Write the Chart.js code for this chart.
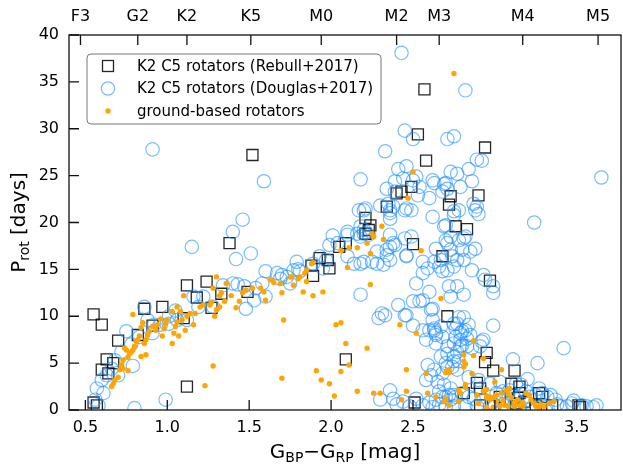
<!DOCTYPE html>
<html><head><meta charset="utf-8">
<script src="https://cdn.jsdelivr.net/npm/chart.js@4/dist/chart.umd.min.js"></script>
<style>html,body{margin:0;padding:0;background:#fff;}canvas{display:block;}</style>
</head><body>
<canvas id="c" width="623" height="468"></canvas>
<script>
// ---- data (BP-RP colour [mag], rotation period [days]) ----
const rebull = [
[1.52,27.2],[1.38,17.8],[1.12,13.3],[1.24,13.7],[1.18,12.0],[0.86,10.8],[0.97,11.0],[1.33,12.4],[1.27,10.9],[1.49,12.6],[0.91,9.0],[1.10,9.8],[0.82,8.0],[0.70,7.4],[0.55,10.2],[0.60,9.1],[0.63,5.4],[0.67,5.0],[0.60,4.3],[0.64,3.9],[1.12,2.5],[0.55,0.8],[0.57,0.5],
[2.57,34.2],[2.53,29.4],[2.58,26.6],[2.94,28.0],[2.49,23.8],[2.43,23.3],[2.40,23.1],[2.73,22.8],[2.72,21.9],[2.90,22.9],[2.34,21.7],[2.21,20.5],[2.24,19.7],[2.23,19.2],[2.21,18.8],[2.76,19.6],[2.83,19.3],[2.09,17.8],[2.05,17.4],[2.50,17.7],[2.68,16.4],[1.93,16.2],[1.98,16.0],[1.99,15.1],[1.88,15.4],[1.89,14.3],[2.97,13.8],[2.71,10.0],[2.09,5.4],[2.51,0.8],
[2.95,6.1],[2.94,5.1],[2.99,4.2],[3.12,4.2],[2.89,2.9],[2.91,2.3],[2.81,1.8],[3.10,2.8],[3.15,2.5],[3.15,1.8],[3.14,1.3],[3.27,1.8],[3.29,1.4],[3.13,0.7],[3.25,0.5],[3.35,0.5],[2.91,0.5],[2.99,0.5],[3.03,1.4],[3.18,0.9],[3.51,0.5],[3.52,0.3]
];
const douglas = [
[0.91,27.8],[1.59,24.4],[1.46,20.3],[1.40,19.0],[1.15,17.4],[1.42,16.1],[1.51,16.7],[1.79,15.8],[1.60,14.8],[1.67,14.6],[1.73,14.2],[1.80,15.0],[1.40,13.5],[1.43,13.4],[1.47,13.2],[1.34,13.3],[1.54,13.0],[1.58,13.5],[1.60,12.1],[1.53,11.7],[1.48,10.8],[1.75,13.5],[1.69,14.0],[1.22,12.1],[1.16,12.1],[1.19,11.0],[1.28,11.0],[1.01,10.0],[0.96,9.1],[0.92,9.1],[0.86,11.0],[0.75,8.4],[0.83,7.8],[0.79,4.7],[0.70,3.7],[0.66,4.4],[0.63,3.7],[0.60,3.2],[0.57,2.3],[0.61,1.8],[0.56,1.1],[0.58,0.5],[0.80,0.2],[0.99,1.1],[1.12,9.6],[1.06,9.6],[1.01,9.2],[0.91,8.2],[0.72,6.2],[0.68,5.3],[0.78,7.0],[0.88,9.6],[1.05,10.6],
[2.01,18.6],[2.10,18.7],[2.04,17.8],[1.99,17.6],[1.93,16.4],[1.97,16.0],[1.89,15.6],[1.77,14.9],[1.70,14.4],[1.81,14.8],[1.95,15.1],[2.10,16.4],[2.14,15.6],[2.18,15.6],[2.20,15.8],[2.25,15.8],[2.28,15.6],[2.28,16.9],[2.34,17.1],[2.36,17.4],[2.38,17.8],[2.46,16.5],[2.36,16.0],[2.32,15.5],[2.18,12.3],[2.41,11.2],[2.31,10.3],[2.29,9.8],[2.46,10.1],[2.20,19.2],[2.16,18.8],[2.20,18.8],[2.23,18.7],[2.18,18.5],[2.21,21.5],[2.17,21.3],[2.30,21.8],[2.38,21.7],[2.46,21.5],[2.36,2.1],[2.38,1.2],[2.30,1.1],
[2.43,38.1],[2.82,34.1],[2.45,29.8],[2.50,28.9],[2.71,28.9],[2.75,29.2],[2.33,27.6],[2.89,26.7],[2.92,26.6],[2.18,24.6],[2.41,25.7],[2.46,26.0],[2.44,24.7],[2.52,24.9],[2.62,24.5],[2.63,24.2],[2.73,25.4],[2.77,25.2],[2.84,25.7],[2.86,24.4],[2.39,24.4],[2.34,23.6],[2.39,23.3],[2.54,23.8],[2.60,22.6],[2.68,23.3],[2.79,23.8],[2.87,22.0],[2.20,21.3],[2.36,21.3],[2.45,21.3],[2.49,21.3],[2.62,20.6],[2.75,21.2],[2.88,21.3],[2.70,19.7],[2.10,19.0],[2.18,19.6],[2.36,20.4],[2.69,24.1],[2.53,22.9],[2.50,24.5],[2.89,21.7],[2.90,20.9],[2.78,21.3],[2.75,20.8],[2.36,21.0],[2.35,22.0],[2.70,24.2],[2.71,23.6],[3.65,24.8],[3.24,20.0],
[2.36,18.7],[2.39,17.6],[2.34,16.5],[2.46,16.4],[2.49,18.5],[2.45,18.3],[2.69,19.6],[2.73,18.5],[2.71,17.8],[2.78,18.1],[2.80,17.1],[2.85,16.9],[2.88,17.2],[2.81,18.3],[2.64,17.2],[2.63,15.8],[2.66,15.3],[2.71,14.9],[2.75,15.3],[2.77,16.0],[2.74,16.4],[2.56,15.8],[2.56,14.6],[2.52,13.5],[2.59,15.1],[2.86,14.9],[2.93,14.4],[2.94,13.9],[2.99,13.2],[2.99,12.5],[2.72,13.2],[2.77,13.2],[2.73,12.1],[2.81,12.3],[2.60,12.6],[2.56,11.7],[2.50,11.6],[2.45,10.1],[2.33,10.1],[2.61,10.7],[2.62,9.6],[2.63,8.5],[2.64,8.0],[2.60,8.5],[2.58,7.5],[2.77,9.2],[2.80,8.4],[2.85,8.0],[2.92,7.3],[2.79,7.5],[2.99,9.0],[2.56,8.5],[2.50,9.0],[2.70,18.1],[2.73,17.1],[2.82,18.5],[2.81,16.0],[2.68,14.8],[2.67,16.0],[2.54,11.6],[2.62,10.8],[2.64,8.2],[2.63,8.7],[2.64,7.1],
[2.59,4.8],[2.63,4.3],[2.61,3.7],[2.58,3.2],[2.65,3.0],[2.66,2.0],[2.70,1.4],[2.64,1.1],[2.73,1.1],[2.75,1.6],[2.75,7.1],[2.80,6.9],[2.83,6.8],[2.77,6.2],[2.71,6.0],[2.79,8.2],[2.82,8.5],[2.75,9.2],[2.78,9.9],[2.81,9.9],[2.84,9.1],[2.76,8.7],[2.83,7.6],[2.93,7.5],[2.91,6.8],[2.79,6.8],[2.86,6.6],[2.68,7.8],[2.67,8.9],[3.42,6.6],[3.26,5.0],[3.11,5.4],[2.75,5.2],[2.71,4.6],[2.77,4.3],[2.67,5.7],
[2.76,7.8],[2.71,6.8],[2.75,5.7],[2.78,5.2],[2.70,5.0],[2.68,3.9],[2.74,4.6],[2.69,2.7],[2.73,2.3],[2.72,1.6],[2.68,1.4],[2.76,1.4],[2.80,1.8],[2.84,1.4],[2.87,1.2],[2.91,2.3],[2.97,2.8],[3.01,1.8],[3.05,2.0],[3.09,2.1],[3.13,2.8],[3.16,2.7],[3.19,2.0],[3.21,1.4],[3.25,1.6],[3.27,2.3],[3.29,1.8],[3.32,1.4],[3.34,1.6],[3.37,1.1],[3.47,0.7],[3.53,0.5],[3.56,0.4],[3.07,0.4],[3.15,0.3],[3.23,0.3],[3.31,0.3],[3.40,0.4],[3.44,0.4],[2.97,0.4],[2.89,0.4],[2.82,0.4],[2.75,0.4],[2.70,0.4],[3.00,0.5],[3.05,1.2],[3.12,1.2],[3.19,0.9],[2.93,1.1],
[2.40,0.6],[2.44,0.9],[2.48,0.4],[2.52,1.2],[2.56,0.5],[2.60,0.8],[2.62,0.3],[2.66,0.6],[3.60,0.3],[3.62,0.5],[3.48,1.0],[3.38,0.6],[2.98,0.8],[3.10,0.8],[2.84,3.5],[2.90,3.2],[3.20,3.3],[3.03,3.0]
];
const ground = [
[0.66,2.5],[0.67,2.8],[0.68,3.2],[0.70,3.5],[0.71,4.3],[0.72,4.8],[0.73,5.3],[0.73,4.4],[0.76,4.2],[0.74,6.6],[0.75,6.4],[0.76,5.6],[0.77,6.0],[0.78,6.2],[0.79,6.4],[0.80,6.8],[0.81,7.3],[0.82,7.5],[0.83,7.9],[0.84,8.8],[0.85,9.3],[0.86,7.1],[0.87,7.5],[0.88,8.0],[0.89,8.4],[0.91,8.9],[0.93,8.5],[0.94,9.1],[0.96,9.7],[0.97,7.9],[0.98,8.7],[0.99,9.2],[1.00,9.6],[1.03,10.5],[1.04,8.2],[1.05,8.9],[1.06,9.4],[1.08,10.5],[1.09,9.6],[1.12,10.0],[1.14,10.3],[1.17,10.3],[1.20,11.0],[1.22,11.2],[1.26,11.2],[1.27,11.5],[1.29,10.0],[1.30,10.7],[1.32,11.0],[1.33,12.5],[1.32,12.2],[1.28,13.0],[1.30,14.2],[1.35,11.6],[0.79,10.2],[0.84,5.7],[0.87,5.9],[1.03,7.1],[1.07,7.9],[1.11,8.5],[1.16,9.1],[1.06,11.0],[1.10,12.2],[1.36,13.5],[1.39,12.2],[1.42,10.9],[1.44,11.6],[1.46,12.5],[1.48,12.8],[1.52,13.0],[1.57,13.0],[1.59,12.6],[1.60,11.7],[1.63,13.9],[1.65,13.6],[1.69,13.5],[1.70,12.5],[1.75,14.2],[1.77,13.3],[1.71,9.6],[1.70,3.4],[1.28,4.7],[1.23,2.6],
[2.31,19.6],[2.25,18.8],[2.26,18.5],[2.22,17.8],[2.16,17.3],[2.11,17.3],[2.06,17.0],[2.24,16.7],[2.32,18.2],[2.55,17.0],[2.10,15.2],[1.89,15.7],[1.88,15.6],[1.85,14.9],[1.84,14.6],[1.81,14.2],[1.80,14.0],[1.76,14.2],[1.85,13.7],[1.83,12.6],[1.95,12.6],[1.89,12.2],[2.24,13.4],[2.03,9.1],[2.06,9.3],[2.42,9.1],[2.52,8.2],[2.67,11.9],[2.09,7.1],[2.22,6.6],[2.11,4.8],[1.91,4.2],[2.06,4.1],[1.94,3.2],[1.99,2.8],[2.02,1.5],[2.16,2.0],[2.26,1.8],[2.30,1.8],[2.46,4.3],[2.46,2.0],[2.43,1.1],[2.58,3.9],[2.59,1.8],[2.64,1.4],[2.75,35.9],[2.50,25.4],[2.47,22.6],[2.87,7.4],
[2.81,5.9],[2.87,5.8],[2.81,5.2],[2.82,4.9],[2.81,4.6],[2.72,4.3],[2.70,4.0],[2.72,4.0],[2.86,3.9],[2.93,5.5],[3.04,4.3],[3.00,3.0],[2.82,2.7],[2.82,2.4],[2.78,2.1],[2.79,1.8],[2.70,1.2],[2.69,0.9],[2.72,0.5],[2.78,0.9],[2.89,1.6],[2.93,2.0],[2.95,2.2],[2.95,1.5],[2.95,1.3],[2.97,1.1],[2.97,1.4],[2.99,1.3],[3.01,1.6],[3.04,1.8],[3.07,2.1],[3.09,2.3],[3.08,1.7],[3.10,1.3],[3.12,0.8],[3.08,0.4],[3.05,1.0],[3.14,1.1],[3.15,0.5],[3.17,0.8],[3.19,1.8],[3.21,1.6],[3.22,1.1],[3.24,0.7],[3.25,0.4],[3.27,0.3],[3.28,0.6],[3.30,0.4],[3.33,0.7],[3.36,0.9],[3.17,0.4],[3.03,0.4],[2.99,0.3],[2.95,0.3],[2.90,0.7],[3.12,0.4],[3.06,0.5],[3.01,0.9]
];
const xTicks = [0.5,1.0,1.5,2.0,2.5,3.0,3.5];
const yTicks = [0,5,10,15,20,25,30,35,40];
const spTypes = ['F3','G2','K2','K5','M0','M2','M3','M4','M5'];
const spColors = [0.47,0.82,1.12,1.51,1.94,2.40,2.66,3.17,3.63];
const seriesNames = ['K2 C5 rotators (Rebull+2017)','K2 C5 rotators (Douglas+2017)','ground-based rotators'];

// ---- styling ----
const FAM = "'DejaVu Sans', sans-serif";
const SQ_COL = 'rgba(0,0,0,0.85)';
const CI_COL = 'rgba(30,144,255,0.6)';
const OR_COL = '#ffa500';
const pts = a => a.map(p => ({x:p[0], y:p[1]}));

function richText(ctx, parts, cx, baseY, size){
  let w = 0;
  parts.forEach(p => { ctx.font = (p.sub ? size*0.7 : size) + 'px ' + FAM; w += ctx.measureText(p.t).width; });
  let x = cx - w/2;
  ctx.textAlign = 'left'; ctx.textBaseline = 'alphabetic';
  parts.forEach(p => {
    const s = p.sub ? size*0.7 : size;
    ctx.font = s + 'px ' + FAM;
    ctx.fillText(p.t, x, baseY + (p.sub ? size*0.22 : 0));
    x += ctx.measureText(p.t).width;
  });
}

const decor = {
  id: 'decor',
  afterDraw(chart){
    const ctx = chart.ctx, a = chart.chartArea;
    const sx = chart.scales.x, sy = chart.scales.y, st = chart.scales.x2;
    ctx.save();
    ctx.strokeStyle = '#111'; ctx.lineWidth = 1.3;
    ctx.beginPath();
    const TL = 10;
    sx.ticks.forEach(t => { const p = sx.getPixelForValue(t.value); ctx.moveTo(p, a.bottom); ctx.lineTo(p, a.bottom - TL); });
    st.ticks.forEach(t => { const p = st.getPixelForValue(t.value); ctx.moveTo(p, a.top); ctx.lineTo(p, a.top + TL); });
    sy.ticks.forEach(t => { const p = sy.getPixelForValue(t.value); ctx.moveTo(a.left, p); ctx.lineTo(a.left + TL, p); });
    ctx.stroke();
    ctx.strokeRect(a.left, a.top, a.right - a.left, a.bottom - a.top);

    // axis titles
    ctx.fillStyle = '#000';
    richText(ctx, [{t:'G'},{t:'BP',sub:true},{t:'\u2212G'},{t:'RP',sub:true},{t:' [mag]'}], (a.left + a.right)/2, 458, 20);
    ctx.save();
    ctx.translate(25, (a.top + a.bottom)/2);
    ctx.rotate(-Math.PI/2);
    richText(ctx, [{t:'P'},{t:'rot',sub:true},{t:' [days]'}], 0, 0, 20);
    ctx.restore();

    // legend
    const L = {x:87, y:54, w:294, h:70, r:4};
    ctx.beginPath();
    ctx.moveTo(L.x + L.r, L.y);
    ctx.arcTo(L.x + L.w, L.y, L.x + L.w, L.y + L.h, L.r);
    ctx.arcTo(L.x + L.w, L.y + L.h, L.x, L.y + L.h, L.r);
    ctx.arcTo(L.x, L.y + L.h, L.x, L.y, L.r);
    ctx.arcTo(L.x, L.y, L.x + L.w, L.y, L.r);
    ctx.closePath();
    ctx.fillStyle = 'rgba(255,255,255,0.85)'; ctx.fill();
    ctx.strokeStyle = '#777'; ctx.lineWidth = 1; ctx.stroke();
    const rows = [66, 88.5, 111], mx = 108;
    ctx.strokeStyle = SQ_COL; ctx.lineWidth = 1.3;
    ctx.strokeRect(mx - 5.5, rows[0] - 5.5, 11, 11);
    ctx.beginPath(); ctx.arc(mx, rows[1], 6.7, 0, Math.PI*2); ctx.strokeStyle = CI_COL; ctx.lineWidth = 1.2; ctx.stroke();
    ctx.beginPath(); ctx.arc(mx, rows[2], 2.7, 0, Math.PI*2); ctx.fillStyle = OR_COL; ctx.fill();
    ctx.fillStyle = '#000'; ctx.font = '15px ' + FAM; ctx.textAlign = 'left'; ctx.textBaseline = 'middle';
    chart.data.datasets.forEach((d, i) => ctx.fillText(d.label, 137, rows[i] + 1));
    ctx.restore();
  }
};

const tickFont = {family: FAM, size: 16};
const noPad = s => { s.paddingLeft = 0; s.paddingRight = 0; };
new Chart(document.getElementById('c'), {
  type: 'scatter',
  data: {
    datasets: [
      {label: seriesNames[0], data: pts(rebull), pointStyle: 'rect', pointRadius: 7.8, borderColor: SQ_COL, backgroundColor: 'rgba(0,0,0,0)', borderWidth: 1.3, order: 3},
      {label: seriesNames[1], data: pts(douglas), pointStyle: 'circle', pointRadius: 6.7, borderColor: CI_COL, backgroundColor: 'rgba(0,0,0,0)', borderWidth: 1.2, order: 2},
      {label: seriesNames[2], data: pts(ground), pointStyle: 'circle', pointRadius: 2.7, borderColor: OR_COL, backgroundColor: OR_COL, borderWidth: 0, order: 1}
    ]
  },
  options: {
    responsive: false, animation: false, devicePixelRatio: 1, events: [],
    layout: {autoPadding: false, padding: {left: 0, right: 2, top: 0, bottom: 0}},
    plugins: {legend: {display: false}, tooltip: {enabled: false}},
    scales: {
      x: {type: 'linear', position: 'bottom', min: 0.4, max: 3.77,
        grid: {display: false, drawTicks: false}, border: {display: false},
        afterBuildTicks: s => { s.ticks = xTicks.map(v => ({value: v})); },
        ticks: {callback: v => Number(v).toFixed(1), font: tickFont, color: '#000', padding: 8, maxRotation: 0, autoSkip: false},
        afterFit: s => { s.height = 58; noPad(s); }},
      x2: {type: 'linear', position: 'top', min: 0.4, max: 3.77,
        grid: {display: false, drawTicks: false}, border: {display: false},
        afterBuildTicks: s => { s.ticks = spColors.map(v => ({value: v})); },
        ticks: {callback: (v, i) => spTypes[i], font: tickFont, color: '#000', padding: 9, maxRotation: 0, autoSkip: false},
        afterFit: s => { s.height = 35; noPad(s); }},
      y: {type: 'linear', min: 0, max: 40,
        grid: {display: false, drawTicks: false}, border: {display: false},
        afterBuildTicks: s => { s.ticks = yTicks.map(v => ({value: v})); },
        ticks: {callback: v => String(v), font: tickFont, color: '#000', padding: 10},
        afterFit: s => { s.width = 69; s.paddingTop = 0; s.paddingBottom = 0; }}
    }
  },
  plugins: [decor]
});
</script>
</body></html>
